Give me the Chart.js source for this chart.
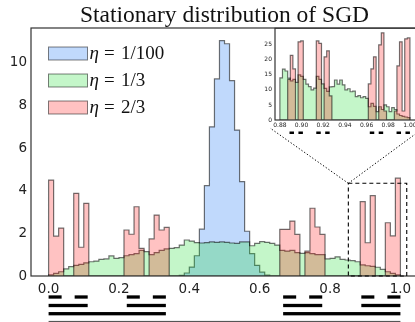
<!DOCTYPE html>
<html>
<head>
<meta charset="utf-8">
<script src="https://cdn.jsdelivr.net/npm/chart.js@4.4.1/dist/chart.umd.min.js"></script>
<style>
html, body { margin: 0; padding: 0; overflow: hidden; background: #fff; }
#wrap { position: relative; width: 415px; height: 322px; overflow: hidden; }
#main { position: absolute; left: 0; top: 0; }
#inset { position: absolute; left: 250px; top: 20px; z-index: 2; }
</style>
</head>
<body>
<div id="wrap">
<canvas id="main" width="430" height="322"></canvas>
<canvas id="inset" width="180" height="125"></canvas>
</div>
<script>
// histogramok: 70 bin a [0,1] szakaszon, a betét 50 bin a [0.88,1] szakaszon
const etaLabels = ['1/100', '1/3', '2/3'];
const xTicks = [0, 0.2, 0.4, 0.6, 0.8, 1.0];
const yTicks = [0, 2, 4, 6, 8, 10];
const insetXTicks = [0.88, 0.90, 0.92, 0.94, 0.96, 0.98, 1.00];
const insetYTicks = [0, 5, 10, 15, 20, 25];
const insetRange = [0.88, 1.0];

const blueVals = [
  0, 0, 0, 0, 0, 0, 0, 0, 0, 0,
  0, 0, 0, 0, 0, 0, 0, 0, 0, 0,
  0, 0, 0, 0, 0, 0, 0.03, 0.14, 0.42, 0.95,
  2.2, 4.24, 7.0, 9.25, 11.05, 10.9, 9.17, 6.85, 4.43, 2.1,
  1.05, 0.5, 0.18, 0.04, 0, 0, 0, 0, 0, 0,
  0, 0, 0, 0, 0, 0, 0, 0, 0, 0,
  0, 0, 0, 0, 0, 0, 0, 0, 0, 0
];
const greenVals = [
  0.05, 0.12, 0.2, 0.33, 0.44, 0.5, 0.55, 0.62, 0.67, 0.7,
  0.78, 0.8, 0.94, 0.83, 0.86, 0.95, 1.0, 1.05, 1.2, 1.14,
  1.0, 1.1, 1.2, 1.27, 1.3, 1.33, 1.45, 1.69, 1.64, 1.57,
  1.55, 1.57, 1.6, 1.58, 1.6, 1.58, 1.55, 1.53, 1.6, 1.6,
  1.42, 1.53, 1.61, 1.58, 1.53, 1.45, 1.2, 1.17, 1.2, 1.1,
  1.06, 1.1, 1.05, 1.0, 1.0, 0.8, 0.83, 0.9, 0.78, 0.75,
  0.72, 0.67, 0.52, 0.48, 0.45, 0.41, 0.31, 0.2, 0.12, 0.05
];
const redVals = [
  4.5, 1.87, 2.25, 0, 0, 3.88, 1.35, 3.41, 0, 0,
  0, 0, 0, 0, 0, 2.16, 1.96, 3.25, 1.3, 0,
  1.74, 2.86, 2.16, 2.28, 0, 0, 0, 0, 0, 0,
  0, 0, 0, 0, 0, 0, 0, 0, 0, 0,
  0, 0, 0, 0, 0, 0, 2.19, 2.19, 2.58, 1.95,
  0, 1.17, 3.18, 2.3, 1.95, 0, 0, 0, 0, 0,
  0, 0, 3.49, 1.56, 3.77, 0, 0, 2.5, 1.88, 4.59
];
const insetGreen = [
  14, 16.9, 16.3, 13.9, 13, 13.5, 12.5, 15, 14.5, 13.5,
  11.9, 11.1, 10, 10.6, 14.5, 13.5, 12, 10.5, 9.5, 11,
  11.1, 13.3, 11.9, 13.3, 11.7, 10, 10.4, 9.4, 9.6, 7.8,
  8.1, 7.4, 7.8, 7.2, 4.4, 5.5, 4.5, 2.8, 4.4, 3.5,
  5, 4.4, 2.8, 4.1, 3.5, 2, 1.5, 1.2, 1, 0.8
];
const insetRed = [
  0, 0, 0, 13.5, 21.5, 17, 0, 26, 26.3, 0,
  0, 0, 0, 0, 26.3, 25.5, 0, 21, 23, 8,
  0, 0, 0, 0, 0, 0, 0, 0, 0, 0,
  0, 0, 0, 0, 12, 17, 21, 0, 25, 29,
  3, 0, 0, 0, 3, 18, 26, 3, 27, 27.3
];

const fills = ['rgba(30,120,245,0.28)', 'rgba(20,220,40,0.25)', 'rgba(255,0,0,0.24)'];
const edge = 'rgba(0,0,0,0.55)';

// lépcsős pontsor: bal élek + lezárás a tengelyre
function stepPoints(vals, lo, hi) {
  const w = (hi - lo) / vals.length;
  const pts = [{x: lo, y: 0}];
  vals.forEach((v, i) => pts.push({x: lo + i * w, y: v}));
  pts.push({x: hi, y: 0});
  return pts;
}

function histSet(label, vals, lo, hi, color, order) {
  return {
    label: label, data: stepPoints(vals, lo, hi),
    backgroundColor: color, borderColor: edge, borderWidth: 1.2,
    fill: 'origin', stepped: true, pointRadius: 0, order: order
  };
}

// Cantor-halmaz intervallumai adott szinten
function cantor(level) {
  let iv = [[0, 1]];
  for (let l = 0; l < level; l++) {
    iv = iv.flatMap(([a, b]) => { const t = (b - a) / 3; return [[a, a + t], [b - t, b]]; });
  }
  return iv;
}

function spines(ctx, a) {
  ctx.strokeStyle = '#333';
  ctx.lineWidth = 1.2;
  ctx.strokeRect(a.left, a.top, a.right - a.left, a.bottom - a.top);
}

const tickFont = {family: 'DejaVu Sans', size: 13.5};
const smallFont = {family: 'DejaVu Sans', size: 6};

// betét
const insetPos = {left: 250, top: 20};
const insetExtras = {
  id: 'insetExtras',
  beforeDraw(chart) {
    const a = chart.chartArea, ctx = chart.ctx;
    ctx.save();
    ctx.fillStyle = '#fff';
    ctx.fillRect(a.left, a.top, a.right - a.left, a.bottom - a.top);
    ctx.restore();
  },
  afterDraw(chart) {
    const {ctx, chartArea: a, scales: {x}} = chart;
    ctx.save();
    spines(ctx, a);
    ctx.fillStyle = '#000';
    cantor(5).forEach(([p, q]) => {
      if (q <= insetRange[0]) return;
      const x0 = x.getPixelForValue(Math.max(p, insetRange[0]));
      const x1 = x.getPixelForValue(q);
      ctx.fillRect(x0, a.bottom + 11.5, x1 - x0, 2.5);
    });
    ctx.restore();
  }
};

const insetChart = new Chart(document.getElementById('inset'), {
  type: 'line',
  data: {datasets: [
    histSet(etaLabels[1], insetGreen, insetRange[0], insetRange[1], fills[1], 2),
    histSet(etaLabels[2], insetRed, insetRange[0], insetRange[1], fills[2], 1)
  ]},
  options: {
    responsive: false, animation: false, devicePixelRatio: 1,
    layout: {padding: {top: 8.3, right: 11.4, left: 0, bottom: 0}},
    plugins: {legend: {display: false}, title: {display: false}, tooltip: {enabled: false}},
    scales: {
      x: {
        type: 'linear', min: 0.8755, max: 1.008,
        grid: {display: false, drawTicks: false}, border: {display: false},
        afterFit: s => { s.height = 25; },
        afterBuildTicks: s => { s.ticks = insetXTicks.map(v => ({value: v})); },
        ticks: {padding: 1.5, color: '#222', font: smallFont, autoSkip: false, maxRotation: 0,
                callback: v => v.toFixed(2)}
      },
      y: {
        type: 'linear', min: 0, max: 30.5,
        grid: {display: false, drawTicks: false}, border: {display: false},
        afterFit: s => { s.width = 25; },
        afterBuildTicks: s => { s.ticks = insetYTicks.map(v => ({value: v})); },
        ticks: {padding: 3, color: '#222', font: smallFont, callback: v => String(v)}
      }
    }
  },
  plugins: [insetExtras]
});

// fő ábra
const zoomBox = {x0: 0.852, x1: 1.018, y0: 0, y1: 4.35};
const mainExtras = {
  id: 'mainExtras',
  afterDraw(chart) {
    const {ctx, chartArea: a, scales: {x, y}} = chart;
    ctx.save();
    spines(ctx, a);

    // cím
    ctx.fillStyle = '#111';
    ctx.font = '23.5px "Liberation Serif"';
    ctx.textAlign = 'center';
    ctx.textBaseline = 'alphabetic';
    ctx.fillText('Stationary distribution of SGD', (a.left + a.right) / 2, 22);

    // jelmagyarázat
    ctx.textAlign = 'left';
    chart.data.datasets.forEach((ds, i) => {
      const bx = 48.5, by = 47 + i * 27;
      ctx.fillStyle = ds.backgroundColor;
      ctx.fillRect(bx, by, 39, 13);
      ctx.strokeStyle = 'rgba(0,0,0,0.5)';
      ctx.lineWidth = 1;
      ctx.strokeRect(bx, by, 39, 13);
      const ty = by + 12;
      ctx.fillStyle = '#111';
      ctx.font = 'italic 19px "Liberation Serif"';
      ctx.fillText('η', bx + 41, ty);
      ctx.font = '19px "Liberation Serif"';
      ctx.fillText('=', bx + 55.5, ty);
      ctx.fillText(ds.label, bx + 72.5, ty);
    });

    // Cantor-szintek az x tengely alatt
    const rows = [{lev: 0, dy: 45.5, h: 1.2, c: '#555'}, {lev: 1, dy: 37.7, h: 3.3, c: '#000'},
                  {lev: 2, dy: 29.5, h: 3.3, c: '#000'}, {lev: 3, dy: 21, h: 3.3, c: '#000'}];
    rows.forEach(r => {
      ctx.fillStyle = r.c;
      cantor(r.lev).forEach(([p, q]) => {
        const x0 = x.getPixelForValue(p), x1 = x.getPixelForValue(q);
        ctx.fillRect(x0, a.bottom + r.dy - r.h / 2, x1 - x0, r.h);
      });
    });

    // nagyított tartomány kerete
    const bl = x.getPixelForValue(zoomBox.x0), br = x.getPixelForValue(zoomBox.x1);
    const bt = y.getPixelForValue(zoomBox.y1), bb = y.getPixelForValue(zoomBox.y0);
    ctx.strokeStyle = '#000';
    ctx.lineWidth = 1.1;
    ctx.setLineDash([4, 3]);
    ctx.strokeRect(bl, bt, br - bl, bb - bt);

    // összekötő vonalak a betéthez
    const ia = insetChart.chartArea;
    ctx.setLineDash([1.3, 2]);
    ctx.lineWidth = 1;
    ctx.beginPath();
    ctx.moveTo(bl, bt);
    ctx.lineTo(insetPos.left + ia.left - 5, insetPos.top + ia.bottom + 8);
    ctx.moveTo(bl, bt);
    ctx.lineTo(insetPos.left + ia.right + 5, insetPos.top + ia.bottom + 8);
    ctx.stroke();
    ctx.restore();
  }
};

new Chart(document.getElementById('main'), {
  type: 'line',
  data: {datasets: [
    histSet(etaLabels[0], blueVals, 0, 1, fills[0], 3),
    histSet(etaLabels[1], greenVals, 0, 1, fills[1], 2),
    histSet(etaLabels[2], redVals, 0, 1, fills[2], 1)
  ]},
  options: {
    responsive: false, animation: false, devicePixelRatio: 1,
    layout: {padding: {top: 28, right: 12, left: 0, bottom: 0}},
    plugins: {legend: {display: false}, title: {display: false}, tooltip: {enabled: false}},
    scales: {
      x: {
        type: 'linear', min: -0.05, max: 1.05,
        grid: {display: false, drawTicks: false}, border: {display: false},
        afterFit: s => { s.height = 46; },
        afterBuildTicks: s => { s.ticks = xTicks.map(v => ({value: v})); },
        ticks: {padding: 5, color: '#222', font: tickFont, autoSkip: false, maxRotation: 0,
                callback: v => v.toFixed(1)}
      },
      y: {
        type: 'linear', min: 0, max: 11.64,
        grid: {display: false, drawTicks: false}, border: {display: false},
        afterFit: s => { s.width = 31; },
        afterBuildTicks: s => { s.ticks = yTicks.map(v => ({value: v})); },
        ticks: {padding: 4, color: '#222', font: tickFont, callback: v => String(v)}
      }
    }
  },
  plugins: [mainExtras]
});
</script>
</body>
</html>
